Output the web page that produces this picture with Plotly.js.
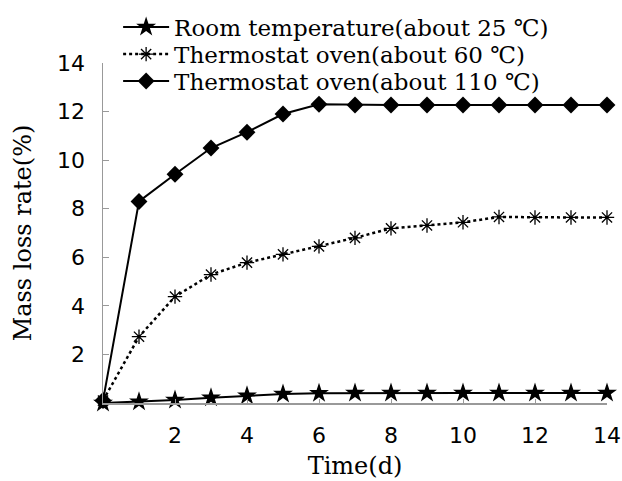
<!DOCTYPE html>
<html>
<head>
<meta charset="utf-8">
<script src="https://cdn.plot.ly/plotly-3.0.1.min.js"></script>
<style>html,body{margin:0;padding:0;background:#fff}#chart{width:622px;height:481px}</style>
</head>
<body>
<div id="chart"></div>
<script>
const days = [0, 1, 2, 3, 4, 5, 6, 7, 8, 9, 10, 11, 12, 13, 14];
const roomTemp = [0, 0.05, 0.12, 0.22, 0.3, 0.37, 0.4, 0.41, 0.41, 0.41, 0.41, 0.41, 0.41, 0.41, 0.41];
const oven60 = [0.1, 2.73, 4.38, 5.29, 5.78, 6.12, 6.45, 6.8, 7.19, 7.31, 7.44, 7.66, 7.64, 7.64, 7.64];
const oven110 = [0.1, 8.3, 9.42, 10.5, 11.15, 11.9, 12.3, 12.27, 12.27, 12.27, 12.27, 12.27, 12.27, 12.27, 12.27];
const seriesNames = ["Room temperature(about 25 \u2103)", "Thermostat oven(about 60 \u2103)", "Thermostat oven(about 110 \u2103)"];
const tickVals = [2, 4, 6, 8, 10, 12, 14];
const tickText = ["2", "4", "6", "8", "10", "12", "14"];

const serif = "DejaVu Serif, serif";
const sans = "DejaVu Sans, sans-serif";

const traces = [
  {x: days, y: roomTemp, name: seriesNames[0], legend: "legend", mode: "lines+markers", cliponaxis: false,
   line: {color: "#000", width: 2}, marker: {symbol: "star", size: 15, color: "#000"}},
  {x: days, y: oven60, name: seriesNames[1], legend: "legend2", mode: "lines+markers", cliponaxis: false,
   line: {color: "#000", width: 2.5, dash: "dot"}, marker: {symbol: "asterisk-open", size: 12, color: "#000", line: {color: "#000", width: 1.3}}},
  {x: days, y: oven110, name: seriesNames[2], legend: "legend3", mode: "lines+markers", cliponaxis: false,
   line: {color: "#000", width: 2}, marker: {symbol: "diamond", size: 13, color: "#000"}}
];

function leg(yPaper) {
  return {x: 0.03, y: yPaper, xanchor: "left", yanchor: "middle", bgcolor: "rgba(0,0,0,0)",
          font: {family: serif, size: 23, color: "#000"}, itemwidth: 46};
}

const layout = {
  width: 622, height: 481,
  margin: {l: 103, r: 15, t: 63, b: 78, autoexpand: false},
  paper_bgcolor: "#fff", plot_bgcolor: "#fff",
  showlegend: true,
  legend: leg(1.106),
  legend2: leg(1.026),
  legend3: leg(0.947),
  xaxis: {range: [0, 14], showgrid: false, zeroline: false, showline: true, linecolor: "#999", linewidth: 1.5,
          ticks: "inside", ticklen: 4, tickcolor: "#999", tickvals: tickVals, ticktext: tickText,
          tickfont: {family: sans, size: 22, color: "#000"}, ticklabelstandoff: 12,
          title: {text: "Time(d)", font: {family: serif, size: 24, color: "#000"}, standoff: 10}},
  yaxis: {range: [0, 14], showgrid: false, zeroline: false, showline: true, linecolor: "#999", linewidth: 1.5,
          ticks: "inside", ticklen: 6, tickcolor: "#999", tickvals: tickVals, ticktext: tickText,
          tickfont: {family: sans, size: 22, color: "#000"}, ticklabelstandoff: 12,
          title: {text: "Mass loss rate(%)", font: {family: serif, size: 24, color: "#000"}, standoff: 18}},
  annotations: [{text: "0", x: -0.58, y: -1.19, xref: "x", yref: "y", showarrow: false,
                 font: {family: sans, size: 22, color: "#000"}}]
};

Plotly.newPlot("chart", traces, layout, {displayModeBar: false, staticPlot: true});
</script>
</body>
</html>
